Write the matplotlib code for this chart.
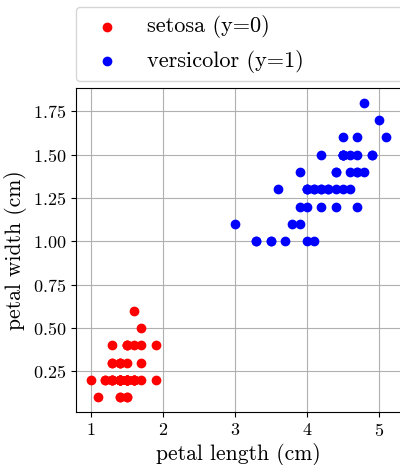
import numpy as np
import matplotlib
matplotlib.use("Agg")
import matplotlib.pyplot as plt

# iris: petal length / petal width, classes 0 and 1
setosa_len = [1.4, 1.4, 1.3, 1.5, 1.4, 1.7, 1.4, 1.5, 1.4, 1.5,
              1.5, 1.6, 1.4, 1.1, 1.2, 1.5, 1.3, 1.4, 1.7, 1.5,
              1.7, 1.5, 1.0, 1.7, 1.9, 1.6, 1.6, 1.5, 1.4, 1.6,
              1.6, 1.5, 1.5, 1.4, 1.5, 1.2, 1.3, 1.4, 1.3, 1.5,
              1.3, 1.3, 1.3, 1.6, 1.9, 1.4, 1.6, 1.4, 1.5, 1.4]
setosa_wid = [0.2, 0.2, 0.2, 0.2, 0.2, 0.4, 0.3, 0.2, 0.2, 0.1,
              0.2, 0.2, 0.1, 0.1, 0.2, 0.4, 0.4, 0.3, 0.3, 0.3,
              0.2, 0.4, 0.2, 0.5, 0.2, 0.2, 0.4, 0.2, 0.2, 0.2,
              0.2, 0.4, 0.1, 0.2, 0.2, 0.2, 0.2, 0.1, 0.2, 0.2,
              0.3, 0.3, 0.2, 0.6, 0.4, 0.3, 0.2, 0.2, 0.2, 0.2]
versi_len = [4.7, 4.5, 4.9, 4.0, 4.6, 4.5, 4.7, 3.3, 4.6, 3.9,
             3.5, 4.2, 4.0, 4.7, 3.6, 4.4, 4.5, 4.1, 4.5, 3.9,
             4.8, 4.0, 4.9, 4.7, 4.3, 4.4, 4.8, 5.0, 4.5, 3.5,
             3.8, 3.7, 3.9, 5.1, 4.5, 4.5, 4.7, 4.4, 4.1, 4.0,
             4.4, 4.6, 4.0, 3.3, 4.2, 4.2, 4.2, 4.3, 3.0, 4.1]
versi_wid = [1.4, 1.5, 1.5, 1.3, 1.5, 1.3, 1.6, 1.0, 1.3, 1.4,
             1.0, 1.5, 1.0, 1.4, 1.3, 1.4, 1.5, 1.0, 1.5, 1.1,
             1.8, 1.3, 1.5, 1.2, 1.3, 1.4, 1.4, 1.7, 1.5, 1.0,
             1.1, 1.0, 1.2, 1.6, 1.5, 1.6, 1.5, 1.3, 1.3, 1.3,
             1.2, 1.4, 1.2, 1.0, 1.3, 1.2, 1.3, 1.3, 1.1, 1.3]

plt.rcParams['font.family'] = 'serif'
plt.rcParams['font.serif'] = ['cmr10']
plt.rcParams['mathtext.fontset'] = 'cm'
plt.rcParams['axes.formatter.use_mathtext'] = True

fig = plt.figure(figsize=(4.0, 4.65), dpi=100)
ax = fig.add_axes([0.19, 0.114, 0.812, 0.697])

ax.scatter(setosa_len, setosa_wid, color='red', label='setosa (y=0)')
ax.scatter(versi_len, versi_wid, color='blue', label='versicolor (y=1)')

ax.set_xlabel('petal length (cm)', fontsize=15.5, labelpad=3)
ax.set_ylabel('petal width (cm)', fontsize=15.5)
ax.tick_params(labelsize=13)
ax.grid(True, color='#b0b0b0', linewidth=0.8)
ax.set_axisbelow(True)

ax.legend(bbox_to_anchor=(0, 1.02, 1.2, 0.2), loc='lower left', mode='expand',
          fontsize=16, borderaxespad=0)

fig.savefig('out.png', dpi=100)
